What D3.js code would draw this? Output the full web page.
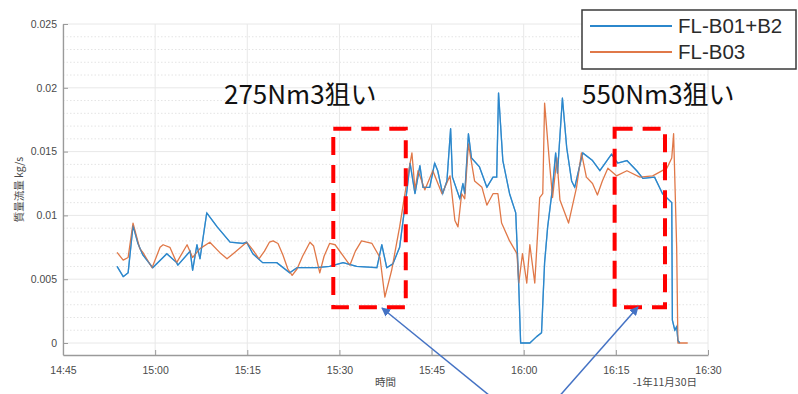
<!DOCTYPE html>
<html>
<head>
<meta charset="utf-8">
<script src="https://cdn.jsdelivr.net/npm/d3@7"></script>
<style>
  body { margin: 0; background: #fff; }
  svg { display: block; font-family: "Noto Sans CJK JP", "Noto Sans", sans-serif; }
</style>
</head>
<body>
<div id="chart"></div>
<script>
// minutes after 14:00 on the same day, value in kg/s
const timesB = [53.8, 54.8, 55.6, 56.4, 57.2, 58.0, 59.6, 61.9, 63.5, 63.7, 65.7, 66.1, 66.8, 67.3, 68.4, 70.1,
  72.2, 74.3, 74.9, 75.9, 77.5, 79.8, 81.9, 83.1, 86.3, 88.4, 90.6, 92.8, 96.1, 96.9, 97.7, 98.7, 99.8, 101.0,
  101.5, 102.3, 103.1, 103.6, 104.7, 105.5, 106.0, 106.8, 107.5, 108.1, 108.4, 109.6, 110.1, 110.4, 111.0, 111.5,
  112.8, 114.0, 115.0, 115.6, 115.9, 116.6, 117.7, 118.7, 119.2, 119.5, 121.0, 122.1, 122.9, 123.4, 123.9, 124.7,
  125.2, 125.5, 126.3, 127.0, 127.8, 128.3, 129.6, 131.2, 132.4, 134.3, 135.3, 136.8, 138.4, 139.4, 141.3, 142.6,
  144.1, 144.2, 144.6, 144.9, 145.1, 145.4];
const flowB = [0.0060, 0.0052, 0.0055, 0.0092, 0.0078, 0.0069, 0.0059, 0.0070, 0.0063, 0.0061, 0.0072, 0.0057, 0.0077, 0.0066, 0.0102, 0.0091,
  0.0079, 0.0078, 0.0079, 0.0070, 0.0063, 0.0063, 0.0055, 0.0059, 0.0059, 0.0060, 0.0063, 0.0060, 0.0059, 0.0077, 0.0059, 0.0062, 0.0075, 0.0120,
  0.0141, 0.0117, 0.0139, 0.0122, 0.0122, 0.0141, 0.0135, 0.0117, 0.0127, 0.0168, 0.0130, 0.0113, 0.0125, 0.0117, 0.0164, 0.0145,
  0.0138, 0.0122, 0.0130, 0.0130, 0.0196, 0.0143, 0.0117, 0.0102, 0.0044, 0.0000, 0.0000, 0.0005, 0.0008, 0.0063, 0.0091, 0.0122,
  0.0149, 0.0133, 0.0192, 0.0153, 0.0127, 0.0122, 0.0149, 0.0143, 0.0135, 0.0148, 0.0141, 0.0143, 0.0135, 0.0129, 0.0130, 0.0117,
  0.0110, 0.0018, 0.0010, 0.0013, 0.0002, 0.0000];

const timesO = [53.8, 54.8, 55.6, 56.4, 57.5, 58.0, 59.5, 60.8, 61.3, 62.4, 63.5, 65.2, 66.1, 67.3, 68.9, 70.5,
  71.7, 72.7, 74.9, 75.9, 76.9, 77.8, 78.6, 79.2, 80.0, 80.8, 81.6, 82.3, 83.1, 84.0, 85.2, 85.8, 86.8, 87.5,
  88.4, 89.3, 91.7, 92.6, 93.6, 95.3, 96.6, 97.4, 98.5, 99.8, 101.0, 101.8, 102.3,
  102.8, 103.4, 103.9, 105.2, 106.7, 108.0, 108.8, 109.3, 109.9, 110.4, 111.0, 112.0, 113.2, 114.0, 115.0, 115.8,
  116.4, 117.7, 118.9, 119.2, 119.8, 120.5, 121.0, 121.8, 122.6, 123.1, 123.4, 124.2, 124.7, 125.4, 125.9, 127.3,
  128.6, 129.4, 130.2, 131.2, 132.0, 132.8, 133.7, 135.1, 136.8, 138.9, 141.0, 143.3, 144.1, 144.4, 144.9, 145.1, 146.7];
const flowO = [0.0071, 0.0065, 0.0067, 0.0094, 0.0074, 0.0071, 0.0059, 0.0075, 0.0077, 0.0075, 0.0063, 0.0077, 0.0067, 0.0074, 0.0079, 0.0071,
  0.0066, 0.0070, 0.0079, 0.0073, 0.0066, 0.0072, 0.0079, 0.0080, 0.0078, 0.0069, 0.0058, 0.0053, 0.0058, 0.0068, 0.0079, 0.0076, 0.0055, 0.0068,
  0.0078, 0.0077, 0.0061, 0.0072, 0.0080, 0.0078, 0.0067, 0.0036, 0.0057, 0.0091, 0.0127, 0.0149, 0.0120,
  0.0135, 0.0127, 0.0120, 0.0135, 0.0117, 0.0131, 0.0096, 0.0091, 0.0117, 0.0113, 0.0156, 0.0127, 0.0122, 0.0108, 0.0117, 0.0117,
  0.0094, 0.0080, 0.0070, 0.0047, 0.0070, 0.0047, 0.0077, 0.0047, 0.0114, 0.0117, 0.0188, 0.0141, 0.0114, 0.0145, 0.0112, 0.0094,
  0.0122, 0.0149, 0.0130, 0.0125, 0.0116, 0.0127, 0.0137, 0.0131, 0.0135, 0.0130, 0.0131, 0.0137, 0.0145, 0.0164, 0.0075, 0.0000, 0.0000];

const seriesNames = ['FL-B01+B2', 'FL-B03'];
const seriesColors = ['#2b87cc', '#e07848'];
const yTicks = [0, 0.005, 0.01, 0.015, 0.02, 0.025];
const xTickLabels = ['14:45', '15:00', '15:15', '15:30', '15:45', '16:00', '16:15', '16:30'];
const targets = ['275Nm3狙い', '550Nm3狙い'];
// dashed boxes: [start, end] in minutes after 14:00, [low, high] in kg/s
const boxTimes = [[89.0, 100.8], [134.8, 143.0]];
const boxFlow = [0.0028, 0.0168];

const width = 798, height = 394;
const margin = { top: 24, right: 90, bottom: 39, left: 63 };

const base = new Date(2000, 0, 1, 14, 0, 0);
const toDate = m => new Date(base.getTime() + m * 60000);

const svg = d3.select('#chart').append('svg')
  .attr('width', width)
  .attr('height', height);

const x = d3.scaleTime()
  .domain([toDate(45), toDate(150)])
  .range([margin.left, width - margin.right]);

const y = d3.scaleLinear()
  .domain([-0.00094, 0.025])
  .range([height - margin.bottom, margin.top]);

/* ----------grid------------*/
const minor = d3.range(1, 26).map(d => d * 0.001).filter(d => d % 0.005 > 0.0001 && d % 0.005 < 0.0049);
svg.append('g').selectAll('line').data(minor).enter().append('line')
  .attr('x1', margin.left).attr('x2', width - margin.right)
  .attr('y1', d => y(d)).attr('y2', d => y(d))
  .attr('stroke', '#e4e4e4').attr('stroke-dasharray', '1.5,2');

svg.append('g').selectAll('line').data(yTicks).enter().append('line')
  .attr('x1', margin.left).attr('x2', width - margin.right)
  .attr('y1', d => y(d)).attr('y2', d => y(d))
  .attr('stroke', '#e8e8e8');

const xTickDates = xTickLabels.map((d, i) => toDate(45 + i * 15));
svg.append('g').selectAll('line').data(xTickDates).enter().append('line')
  .attr('x1', d => x(d)).attr('x2', d => x(d))
  .attr('y1', margin.top).attr('y2', height - margin.bottom)
  .attr('stroke', '#e8e8e8');

/* ----------axes------------*/
const xAxis = d3.axisBottom(x)
  .tickValues(xTickDates)
  .tickFormat((d, i) => xTickLabels[i])
  .tickSizeInner(-5).tickSizeOuter(0).tickPadding(12);
const gx = svg.append('g')
  .attr('transform', 'translate(0,' + (height - margin.bottom) + ')')
  .call(xAxis);

const yAxis = d3.axisLeft(y)
  .tickValues(yTicks)
  .tickFormat(d => d3.format('')(+d.toFixed(3)))
  .tickSizeInner(-5).tickSizeOuter(0).tickPadding(6);
const gy = svg.append('g')
  .attr('transform', 'translate(' + margin.left + ',0)')
  .call(yAxis);

[gx, gy].forEach(g => {
  g.select('.domain').attr('stroke', '#9a9a9a').attr('stroke-width', 1.3);
  g.selectAll('.tick line').attr('stroke', '#9a9a9a');
  g.selectAll('.tick text').attr('fill', '#4a4a4a').style('font-size', '10.5px')
    .style('font-family', '"Liberation Sans", Arial, sans-serif');
});

svg.append('text')
  .attr('x', (margin.left + width - margin.right) / 2)
  .attr('y', 386)
  .attr('text-anchor', 'middle')
  .attr('fill', '#4a4a4a')
  .style('font-size', '10.5px')
  .text('時間');

svg.append('text')
  .attr('x', 697)
  .attr('y', 386)
  .attr('text-anchor', 'end')
  .attr('fill', '#4a4a4a')
  .style('font-size', '10.5px')
  .text('-1年11月30日');

svg.append('text')
  .attr('transform', 'translate(23,' + ((margin.top + height - margin.bottom) / 2) + ') rotate(-90)')
  .attr('text-anchor', 'middle')
  .attr('fill', '#4a4a4a')
  .style('font-size', '10.5px')
  .text('質量流量 kg/s');

/* ----------lines------------*/
const line = d3.line()
  .x(d => x(toDate(d[0])))
  .y(d => y(d[1]));

const seriesData = [
  timesB.map((t, i) => [t, flowB[i]]),
  timesO.map((t, i) => [t, flowO[i]])
];

seriesData.forEach((data, i) => {
  svg.append('path')
    .datum(data)
    .attr('fill', 'none')
    .attr('stroke', seriesColors[i])
    .attr('stroke-width', 1.3)
    .attr('stroke-linejoin', 'round')
    .attr('d', line);
});
// blue drawn again, faint, so it shows through where both overlap
svg.append('path')
  .datum(seriesData[0])
  .attr('fill', 'none')
  .attr('stroke', seriesColors[0])
  .attr('stroke-width', 1.3)
  .attr('stroke-opacity', 0.6)
  .attr('d', line);

/* ----------legend------------*/
const legend = svg.append('g').attr('transform', 'translate(582,10)');
legend.append('rect')
  .attr('width', 214).attr('height', 59)
  .attr('fill', '#fff')
  .attr('stroke', '#3a3a3a').attr('stroke-width', 1.5);
seriesNames.forEach((name, i) => {
  legend.append('line')
    .attr('x1', 8).attr('x2', 90)
    .attr('y1', 16 + i * 26).attr('y2', 16 + i * 26)
    .attr('stroke', seriesColors[i]).attr('stroke-width', 2);
  legend.append('text')
    .attr('x', 96).attr('y', 23 + i * 26)
    .attr('fill', '#2a2a2a')
    .style('font-size', '20.5px')
    .style('font-family', '"Liberation Sans", Arial, sans-serif')
    .text(name);
});

/* ----------target annotations------------*/
const labelX = [224, 582];
targets.forEach((t, i) => {
  svg.append('text')
    .attr('x', labelX[i]).attr('y', 104)
    .attr('fill', '#111')
    .style('font-size', '26px')
    .style('font-family', '"Noto Sans CJK JP", "Noto Sans", sans-serif')
    .text(t);
});

boxTimes.forEach(b => {
  svg.append('rect')
    .attr('x', x(toDate(b[0])))
    .attr('y', y(boxFlow[1]))
    .attr('width', x(toDate(b[1])) - x(toDate(b[0])))
    .attr('height', y(boxFlow[0]) - y(boxFlow[1]))
    .attr('fill', 'none')
    .attr('stroke', '#ff0000')
    .attr('stroke-width', 4)
    .attr('stroke-dasharray', '18,10');
});

/* ----------arrows------------*/
const defs = svg.append('defs');
defs.append('marker')
  .attr('id', 'arrow')
  .attr('viewBox', '0 0 10 10')
  .attr('refX', 9).attr('refY', 5)
  .attr('markerWidth', 6).attr('markerHeight', 6)
  .attr('orient', 'auto')
  .append('path').attr('d', 'M0,0 L10,5 L0,10 z').attr('fill', '#4472c4');

const arrows = [[495, 400, 382, 308], [556, 400, 638, 307]];
arrows.forEach(a => {
  svg.append('line')
    .attr('x1', a[0]).attr('y1', a[1])
    .attr('x2', a[2]).attr('y2', a[3])
    .attr('stroke', '#4472c4').attr('stroke-width', 1.5)
    .attr('marker-end', 'url(#arrow)');
});
</script>
</body>
</html>
